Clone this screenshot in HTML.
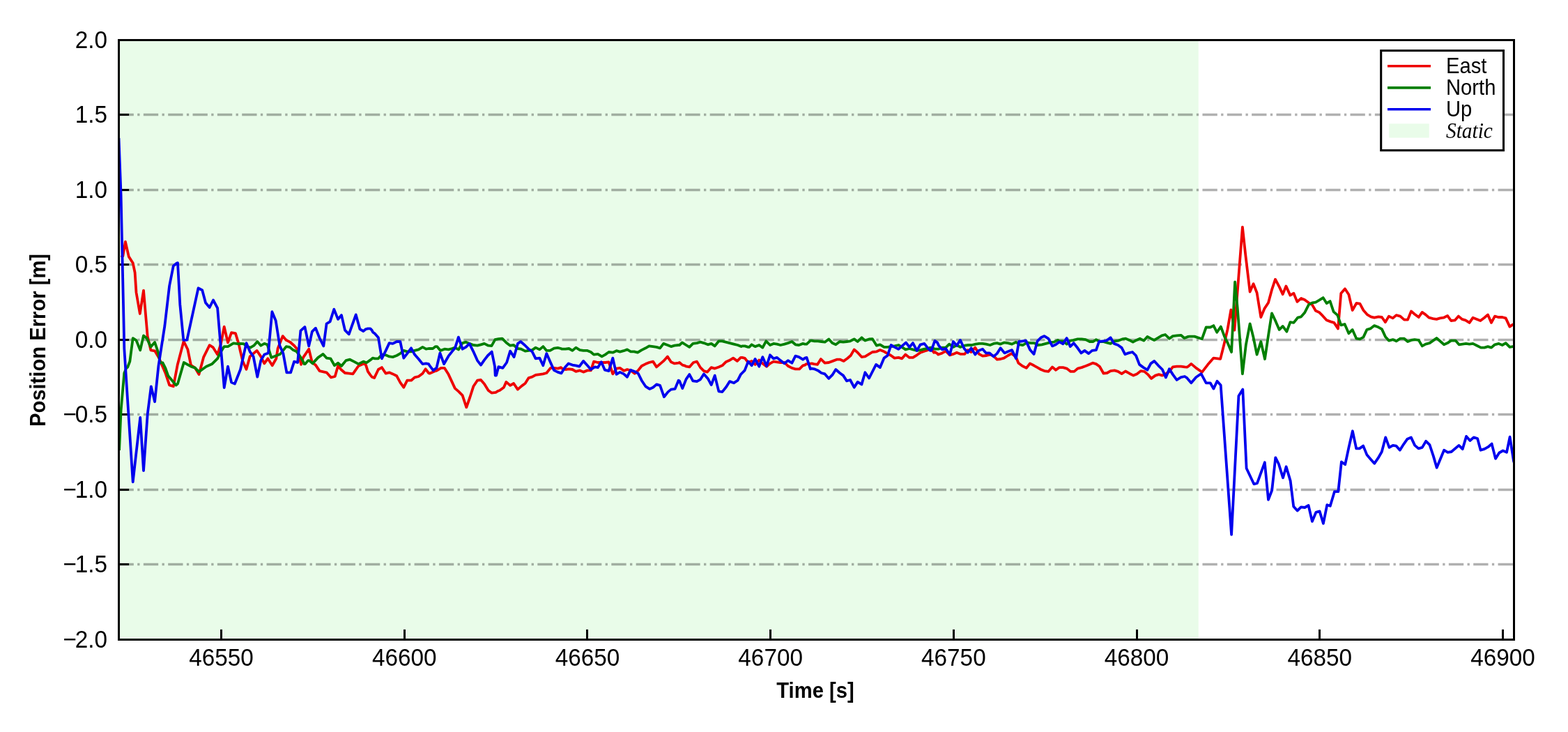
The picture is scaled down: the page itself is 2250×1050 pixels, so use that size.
<!DOCTYPE html>
<html><head><meta charset="utf-8"><title>Position Error</title>
<style>html,body{margin:0;padding:0;background:#fff;width:2250px;height:1050px;overflow:hidden}svg{display:block}</style>
</head><body>
<svg width="2250" height="1050" viewBox="0 0 2250 1050">
<rect width="2250" height="1050" fill="#ffffff"/>
<defs><clipPath id="ax"><rect x="170.5" y="57.3" width="2001.8000000000002" height="859.9000000000001"/></clipPath></defs>
<rect x="170.5" y="57.3" width="1549.2" height="859.9" fill="#e9fce9"/>
<line x1="170.5" y1="164.50" x2="2172.3" y2="164.50" stroke="#000" stroke-opacity="0.31" stroke-width="3.33" stroke-dasharray="21.34 5.34 3.33 5.33"/>
<line x1="170.5" y1="272.50" x2="2172.3" y2="272.50" stroke="#000" stroke-opacity="0.31" stroke-width="3.33" stroke-dasharray="21.34 5.34 3.33 5.33"/>
<line x1="170.5" y1="379.50" x2="2172.3" y2="379.50" stroke="#000" stroke-opacity="0.31" stroke-width="3.33" stroke-dasharray="21.34 5.34 3.33 5.33"/>
<line x1="170.5" y1="487.50" x2="2172.3" y2="487.50" stroke="#000" stroke-opacity="0.31" stroke-width="3.33" stroke-dasharray="21.34 5.34 3.33 5.33"/>
<line x1="170.5" y1="594.50" x2="2172.3" y2="594.50" stroke="#000" stroke-opacity="0.31" stroke-width="3.33" stroke-dasharray="21.34 5.34 3.33 5.33"/>
<line x1="170.5" y1="702.50" x2="2172.3" y2="702.50" stroke="#000" stroke-opacity="0.31" stroke-width="3.33" stroke-dasharray="21.34 5.34 3.33 5.33"/>
<line x1="170.5" y1="809.50" x2="2172.3" y2="809.50" stroke="#000" stroke-opacity="0.31" stroke-width="3.33" stroke-dasharray="21.34 5.34 3.33 5.33"/>
<line x1="317.50" y1="917.5" x2="317.50" y2="902.9" stroke="#000" stroke-width="3"/>
<line x1="580.50" y1="917.5" x2="580.50" y2="902.9" stroke="#000" stroke-width="3"/>
<line x1="842.50" y1="917.5" x2="842.50" y2="902.9" stroke="#000" stroke-width="3"/>
<line x1="1105.50" y1="917.5" x2="1105.50" y2="902.9" stroke="#000" stroke-width="3"/>
<line x1="1368.50" y1="917.5" x2="1368.50" y2="902.9" stroke="#000" stroke-width="3"/>
<line x1="1631.50" y1="917.5" x2="1631.50" y2="902.9" stroke="#000" stroke-width="3"/>
<line x1="1893.50" y1="917.5" x2="1893.50" y2="902.9" stroke="#000" stroke-width="3"/>
<line x1="2156.50" y1="917.5" x2="2156.50" y2="902.9" stroke="#000" stroke-width="3"/>
<line x1="170.5" y1="57.50" x2="185.1" y2="57.50" stroke="#000" stroke-width="3"/>
<line x1="170.5" y1="164.50" x2="185.1" y2="164.50" stroke="#000" stroke-width="3"/>
<line x1="170.5" y1="272.50" x2="185.1" y2="272.50" stroke="#000" stroke-width="3"/>
<line x1="170.5" y1="379.50" x2="185.1" y2="379.50" stroke="#000" stroke-width="3"/>
<line x1="170.5" y1="487.50" x2="185.1" y2="487.50" stroke="#000" stroke-width="3"/>
<line x1="170.5" y1="594.50" x2="185.1" y2="594.50" stroke="#000" stroke-width="3"/>
<line x1="170.5" y1="702.50" x2="185.1" y2="702.50" stroke="#000" stroke-width="3"/>
<line x1="170.5" y1="809.50" x2="185.1" y2="809.50" stroke="#000" stroke-width="3"/>
<line x1="170.5" y1="917.50" x2="185.1" y2="917.50" stroke="#000" stroke-width="3"/>
<g clip-path="url(#ax)" fill="none" stroke-width="3.8" stroke-linejoin="round" stroke-linecap="butt">
<path d="M173.8,369.0 L176.4,367.1 L179.9,346.7 L184.8,368.1 L190.7,377.2 L193.6,391.0 L195.5,419.5 L200.8,450.0 L206.0,416.7 L211.7,482.4 L216.4,502.4 L222.1,503.3 L227.9,512.9 L237.4,535.2 L243.1,552.4 L248.8,554.3 L254.8,522.9 L263.6,489.5 L269.3,501.0 L274.0,523.8 L279.8,527.6 L285.5,537.1 L292.1,512.4 L300.7,495.2 L305.5,498.1 L312.1,508.6 L316.9,493.3 L321.7,468.6 L327.0,491.4 L332.1,477.1 L337.9,478.1 L342.6,493.3 L345.0,504.3 L348.3,518.1 L353.5,529.8 L358.6,511.4 L368.6,502.9 L374.3,511.4 L379.3,521.4 L384.3,514.3 L390.7,524.3 L396.4,514.3 L398.6,500.0 L405.7,482.1 L410.7,487.9 L416.4,490.7 L422.1,495.7 L427.1,501.4 L432.1,522.9 L435.0,512.9 L437.9,508.6 L443.2,500.7 L447.9,520.0 L452.9,523.6 L458.6,532.1 L468.6,534.3 L475.0,541.4 L480.7,540.0 L485.0,525.0 L489.3,530.0 L495.0,535.0 L500.7,535.7 L506.4,536.4 L514.3,525.0 L522.1,521.4 L525.0,523.6 L527.9,532.9 L531.4,537.9 L533.6,540.7 L537.1,542.1 L542.9,530.0 L547.9,527.1 L553.6,535.7 L558.6,534.3 L563.6,536.4 L569.3,539.3 L574.3,548.6 L579.3,555.7 L584.3,545.7 L590.0,545.7 L595.0,541.4 L600.7,540.0 L606.4,535.7 L610.7,529.3 L615.0,535.0 L616.4,535.7 L621.4,533.6 L625.0,532.1 L627.1,531.4 L632.9,527.9 L637.9,527.9 L643.6,537.1 L648.6,547.9 L652.9,557.1 L657.9,561.4 L663.6,567.1 L669.3,584.3 L674.3,570.0 L679.3,554.3 L685.0,545.7 L690.0,545.0 L695.0,550.7 L700.7,560.0 L705.4,563.6 L711.4,562.9 L715.0,560.7 L717.1,560.0 L722.9,555.7 L726.4,547.9 L732.1,552.9 L737.1,550.0 L742.9,558.6 L748.6,553.6 L753.6,550.0 L758.6,542.1 L763.6,540.7 L768.6,537.9 L774.3,537.1 L779.3,536.4 L784.3,535.0 L790.0,527.9 L795.0,527.9 L800.7,528.6 L805.0,527.1 L806.4,528.6 L811.4,530.0 L816.4,529.3 L821.4,530.0 L826.4,532.9 L832.1,531.4 L837.1,533.6 L842.9,531.4 L847.9,531.4 L852.1,518.6 L857.9,520.0 L863.6,520.0 L868.6,520.0 L873.6,519.3 L879.3,536.4 L884.6,528.6 L889.6,527.9 L895.4,531.8 L900.0,530.0 L905.0,531.4 L910.7,535.7 L915.7,531.4 L920.7,525.0 L926.4,522.1 L931.4,520.0 L937.1,518.6 L942.1,526.4 L947.1,522.1 L952.1,517.9 L957.9,511.4 L962.9,519.3 L967.9,521.4 L973.6,520.7 L975.0,520.0 L979.3,523.6 L982.1,524.3 L985.0,525.7 L989.3,526.4 L995.0,520.0 L1000.0,518.6 L1005.0,527.1 L1010.0,532.1 L1015.0,533.6 L1020.7,527.1 L1025.7,528.6 L1031.4,526.4 L1036.4,524.3 L1041.4,519.3 L1046.4,517.1 L1052.1,513.6 L1057.9,517.9 L1062.9,512.9 L1065.0,512.9 L1068.9,513.9 L1073.6,520.0 L1078.6,517.9 L1083.6,522.9 L1089.3,516.4 L1094.3,521.4 L1100.0,525.7 L1105.0,521.4 L1110.0,518.6 L1115.0,519.3 L1120.0,520.0 L1125.7,520.0 L1130.7,525.0 L1136.4,527.9 L1141.4,529.3 L1147.1,529.3 L1152.1,524.3 L1155.0,523.6 L1157.1,522.1 L1159.3,522.1 L1165.0,521.4 L1167.9,522.1 L1172.9,522.9 L1177.9,515.0 L1183.6,520.7 L1189.3,520.0 L1195.0,517.9 L1200.7,515.7 L1205.7,515.7 L1210.7,517.9 L1215.7,514.3 L1220.7,510.0 L1225.7,501.4 L1230.7,505.7 L1236.4,512.1 L1241.4,511.4 L1247.1,507.9 L1251.8,505.0 L1257.9,504.3 L1262.9,502.1 L1268.6,504.3 L1273.6,507.1 L1278.6,510.0 L1283.6,513.6 L1289.3,512.9 L1294.3,514.3 L1299.3,508.6 L1305.0,512.9 L1310.0,512.9 L1315.7,509.3 L1320.7,505.7 L1326.4,503.6 L1331.4,502.1 L1335.0,500.7 L1336.4,500.7 L1340.0,505.7 L1341.4,505.0 L1345.0,507.1 L1346.4,508.6 L1352.1,506.4 L1357.1,503.6 L1362.9,509.3 L1367.9,507.9 L1372.9,505.7 L1378.6,507.9 L1384.3,507.9 L1388.6,502.1 L1393.6,505.0 L1399.3,498.6 L1405.0,507.9 L1410.0,510.7 L1415.7,510.0 L1420.7,508.6 L1425.7,510.7 L1430.7,515.7 L1435.7,515.0 L1440.7,513.6 L1446.4,510.0 L1451.4,507.1 L1457.9,512.1 L1461.4,520.7 L1467.1,525.0 L1472.9,527.9 L1477.9,521.4 L1483.6,524.3 L1488.6,527.1 L1493.6,530.0 L1498.6,532.1 L1504.3,532.9 L1510.0,526.4 L1515.0,530.7 L1520.0,527.1 L1525.4,527.1 L1530.7,528.6 L1536.4,532.9 L1541.4,532.9 L1546.4,528.6 L1552.1,527.1 L1557.9,525.0 L1562.9,522.9 L1567.9,520.7 L1572.9,522.1 L1577.9,525.7 L1583.6,535.7 L1588.6,535.0 L1593.6,532.1 L1599.3,531.4 L1604.3,532.9 L1609.6,536.1 L1615.0,532.5 L1620.7,535.7 L1626.4,538.6 L1631.4,536.4 L1637.1,532.1 L1642.1,532.9 L1647.1,537.1 L1652.1,542.9 L1657.9,538.6 L1662.9,537.1 L1667.9,538.6 L1672.9,536.4 L1677.9,532.9 L1682.9,526.4 L1688.6,525.7 L1694.6,525.6 L1700.0,526.4 L1703.3,526.7 L1705.0,525.7 L1709.3,521.9 L1716.4,527.9 L1724.8,533.8 L1733.1,523.1 L1741.4,513.6 L1751.2,514.9 L1756.4,494.3 L1761.4,472.9 L1766.4,444.3 L1771.4,473.6 L1782.9,325.7 L1787.1,364.3 L1793.6,418.6 L1798.6,407.1 L1803.6,420.0 L1809.3,455.0 L1814.3,442.9 L1820.0,434.3 L1825.0,415.7 L1830.0,400.7 L1835.7,411.4 L1840.7,422.1 L1845.4,410.4 L1851.4,423.6 L1856.4,420.7 L1861.4,432.9 L1867.1,427.9 L1872.1,430.0 L1877.9,434.3 L1882.9,437.1 L1887.9,445.7 L1892.9,447.9 L1897.9,452.9 L1903.6,459.3 L1909.3,461.4 L1914.3,462.9 L1920.0,471.4 L1924.3,420.7 L1930.0,414.3 L1935.4,422.5 L1940.7,445.0 L1946.4,435.0 L1951.4,435.7 L1956.4,445.0 L1962.1,451.4 L1967.1,454.3 L1972.1,455.7 L1977.9,454.3 L1982.9,455.0 L1987.9,462.1 L1992.9,453.6 L1998.6,456.4 L2003.6,452.1 L2009.3,453.6 L2015.0,458.6 L2020.0,458.6 L2025.0,446.4 L2030.0,450.7 L2035.7,455.0 L2040.7,447.9 L2045.7,451.4 L2050.7,455.7 L2056.4,457.1 L2061.4,457.9 L2066.4,456.4 L2071.4,455.7 L2077.1,452.9 L2082.1,460.0 L2087.9,459.3 L2092.9,453.6 L2097.9,457.9 L2102.9,459.3 L2108.6,462.9 L2113.6,455.7 L2119.3,457.9 L2124.3,460.0 L2130.0,455.7 L2135.0,451.4 L2140.0,462.9 L2145.0,453.6 L2150.0,455.0 L2155.7,455.0 L2160.7,456.4 L2166.4,468.6 L2170.7,465.7 L2173.6,464.3" stroke="#ee0000"/>
<path d="M171.1,646.0 L173.6,588.6 L178.3,535.2 L181.2,528.1 L183.1,526.7 L186.3,518.5 L190.7,485.2 L195.5,488.1 L201.2,502.4 L206.0,481.4 L210.7,485.2 L216.4,497.6 L222.1,491.0 L226.9,505.2 L229.8,520.0 L233.6,520.5 L237.4,528.1 L241.2,539.0 L252.6,552.4 L255.0,550.5 L263.8,520.0 L274.0,525.7 L279.8,527.6 L285.5,533.3 L296.0,525.7 L304.5,521.9 L312.1,514.3 L316.9,504.8 L321.7,497.1 L327.0,497.1 L335.0,492.4 L342.6,493.3 L345.0,492.9 L349.8,493.1 L354.0,497.1 L359.3,498.6 L364.3,495.7 L369.3,490.0 L374.3,495.7 L379.3,492.9 L383.6,494.3 L389.3,512.9 L395.0,510.7 L402.1,507.9 L410.7,497.1 L415.7,497.9 L420.7,502.1 L425.7,504.3 L430.7,511.4 L435.0,518.6 L436.4,522.1 L437.9,522.1 L442.1,517.1 L443.6,517.1 L448.6,521.4 L456.4,512.9 L463.6,507.9 L468.6,513.6 L474.3,514.3 L480.0,524.3 L485.0,520.7 L490.0,525.0 L496.4,517.1 L502.1,515.7 L507.9,518.6 L514.3,522.1 L521.4,518.6 L525.0,520.0 L526.4,520.0 L531.4,516.4 L535.0,513.6 L537.9,514.3 L542.9,514.3 L547.9,508.6 L553.6,509.3 L558.6,511.4 L563.6,512.1 L569.3,510.0 L574.3,507.1 L579.3,502.9 L584.3,504.3 L590.0,504.3 L595.0,502.9 L600.7,501.4 L606.4,497.9 L611.4,500.7 L615.0,500.0 L616.4,500.0 L621.1,500.0 L625.0,497.1 L627.1,497.1 L632.1,502.9 L637.9,500.7 L643.6,501.4 L648.6,500.0 L652.9,498.6 L657.9,501.4 L663.6,492.1 L668.6,490.7 L673.6,492.9 L679.3,495.0 L685.0,495.7 L690.0,494.3 L695.0,492.9 L700.7,495.7 L705.4,496.1 L710.4,487.1 L715.4,486.1 L720.7,485.7 L726.4,491.4 L732.1,495.7 L737.1,495.0 L742.9,500.0 L747.9,500.7 L753.6,503.6 L758.6,502.9 L763.6,502.1 L768.6,498.6 L774.3,501.4 L779.3,497.1 L784.3,502.9 L789.3,502.9 L795.0,499.6 L800.4,498.9 L805.0,500.0 L806.4,500.7 L811.4,500.7 L816.4,500.0 L821.4,502.9 L826.4,498.6 L832.1,502.1 L837.1,502.9 L842.9,502.9 L847.9,505.0 L852.1,508.6 L857.9,507.9 L863.6,511.4 L868.6,508.6 L873.6,505.0 L879.3,505.7 L884.6,503.2 L889.6,504.6 L895.0,503.2 L900.0,501.4 L905.0,504.3 L910.0,504.3 L915.0,505.7 L920.7,502.1 L926.4,499.3 L931.4,496.4 L937.1,497.1 L942.1,497.9 L947.1,499.3 L952.1,492.9 L957.9,495.0 L962.9,497.1 L967.9,495.7 L973.6,495.0 L975.0,495.0 L978.9,491.4 L984.6,495.0 L989.3,497.9 L994.3,492.9 L1000.0,492.1 L1005.0,490.7 L1010.0,492.1 L1015.7,494.3 L1020.7,492.9 L1025.7,496.4 L1031.4,489.3 L1036.4,489.3 L1041.4,490.7 L1047.1,492.1 L1052.9,493.6 L1058.6,495.0 L1063.6,497.1 L1065.0,496.4 L1068.9,496.4 L1073.6,497.9 L1075.0,497.9 L1078.6,494.3 L1083.6,497.1 L1089.3,495.0 L1094.3,498.6 L1099.3,489.3 L1105.0,495.0 L1110.0,492.9 L1115.0,493.6 L1120.0,495.0 L1125.7,493.6 L1130.7,492.1 L1136.4,490.0 L1141.4,494.3 L1146.4,495.0 L1152.1,492.9 L1155.0,493.6 L1157.5,493.6 L1162.9,488.6 L1165.0,488.6 L1168.6,489.3 L1173.6,489.3 L1178.6,490.0 L1183.6,490.7 L1189.3,486.4 L1194.3,492.1 L1199.3,494.3 L1205.0,490.0 L1210.0,490.7 L1215.0,490.0 L1220.0,489.3 L1225.7,486.4 L1230.7,490.0 L1236.4,484.3 L1241.4,488.6 L1247.1,486.4 L1251.8,486.1 L1257.9,495.7 L1262.9,494.3 L1268.6,497.9 L1273.6,497.9 L1278.6,497.1 L1283.6,496.4 L1289.3,495.0 L1294.3,497.9 L1299.3,501.4 L1305.0,500.0 L1310.0,501.4 L1315.7,502.9 L1320.7,502.1 L1326.4,500.7 L1331.4,500.0 L1335.0,498.6 L1336.4,498.6 L1340.0,500.0 L1341.4,500.7 L1345.0,500.7 L1346.4,500.7 L1352.1,498.6 L1357.1,498.6 L1362.1,493.6 L1367.9,497.9 L1372.9,495.0 L1377.9,497.9 L1384.3,495.7 L1389.3,495.0 L1394.3,495.0 L1400.0,493.6 L1405.0,492.9 L1410.0,492.9 L1415.0,493.6 L1420.7,495.0 L1425.7,492.9 L1430.7,492.1 L1435.7,493.6 L1440.7,491.4 L1446.4,492.1 L1452.1,493.6 L1457.9,490.7 L1462.9,494.3 L1467.9,495.0 L1473.6,491.4 L1479.3,492.1 L1484.3,492.1 L1489.3,495.0 L1495.0,494.3 L1500.7,492.9 L1506.4,491.4 L1512.1,490.7 L1517.9,487.9 L1520.0,489.3 L1525.4,489.3 L1530.7,493.6 L1535.7,488.6 L1540.7,487.9 L1546.4,486.4 L1552.1,486.4 L1557.9,487.1 L1563.6,490.0 L1568.6,490.0 L1572.9,487.1 L1577.9,490.0 L1582.9,490.0 L1587.9,491.4 L1593.6,492.9 L1599.3,489.3 L1605.0,488.6 L1610.4,486.4 L1615.4,485.7 L1620.7,487.9 L1625.7,490.7 L1630.7,487.9 L1635.7,485.7 L1641.4,488.6 L1646.4,482.9 L1651.4,485.7 L1656.4,487.9 L1662.1,484.3 L1667.1,481.4 L1672.1,480.0 L1677.9,485.7 L1682.9,482.1 L1688.6,481.4 L1694.6,480.8 L1699.5,485.0 L1705.0,482.9 L1706.9,482.6 L1714.0,482.6 L1724.8,486.2 L1730.7,469.5 L1736.7,469.5 L1741.4,467.1 L1746.2,476.7 L1751.8,468.5 L1757.1,482.9 L1762.1,492.9 L1767.1,505.0 L1772.1,404.3 L1775.7,441.4 L1782.9,536.4 L1787.9,494.3 L1793.6,464.3 L1798.6,484.3 L1803.6,508.6 L1809.3,490.0 L1815.0,515.0 L1820.0,481.4 L1825.0,449.3 L1830.7,461.4 L1835.7,472.9 L1840.7,467.9 L1846.4,475.7 L1851.4,462.1 L1856.4,462.9 L1862.1,455.7 L1867.1,454.3 L1872.1,448.6 L1877.9,437.1 L1882.9,434.3 L1887.9,433.6 L1892.9,430.7 L1898.6,427.1 L1903.6,435.0 L1908.6,432.1 L1913.6,447.1 L1919.3,452.1 L1924.3,466.4 L1929.6,465.0 L1935.4,478.2 L1940.7,472.9 L1946.4,485.7 L1951.4,486.4 L1956.4,483.6 L1961.4,472.9 L1966.4,471.4 L1972.1,467.1 L1977.9,469.3 L1982.9,472.1 L1987.9,482.9 L1992.9,488.6 L1998.6,487.1 L2003.6,489.3 L2009.3,485.7 L2015.0,485.7 L2020.0,490.0 L2025.0,487.9 L2030.0,487.1 L2035.7,487.9 L2040.7,496.4 L2045.7,493.6 L2051.4,492.1 L2056.4,488.6 L2061.4,485.0 L2066.4,489.3 L2072.1,494.3 L2077.1,492.1 L2082.1,488.6 L2088.6,488.6 L2093.6,494.3 L2098.6,493.6 L2103.6,492.9 L2108.6,493.6 L2113.6,492.9 L2119.3,495.7 L2125.0,498.6 L2130.0,498.6 L2135.0,497.1 L2140.0,498.6 L2145.0,494.3 L2150.7,492.9 L2155.7,495.0 L2160.7,492.1 L2166.4,497.9 L2170.7,497.1 L2173.6,496.9" stroke="#007f00"/>
<path d="M170.5,198.0 L173.6,280.0 L177.5,460.0 L178.3,500.0 L190.7,691.4 L201.2,599.0 L206.0,675.2 L211.7,594.3 L216.8,554.3 L222.1,576.2 L227.4,525.0 L236.4,467.1 L243.1,410.0 L248.8,381.4 L253.6,377.6 L255.0,377.1 L258.3,436.7 L263.3,487.9 L268.3,487.6 L284.5,413.3 L290.2,416.2 L295.0,434.3 L300.7,441.0 L306.0,430.5 L312.1,441.9 L321.7,556.2 L327.0,525.7 L332.1,548.6 L336.9,550.5 L345.0,530.0 L353.5,492.1 L358.6,504.3 L363.6,511.4 L369.3,540.7 L374.3,517.1 L379.3,508.6 L385.0,506.4 L390.4,447.1 L395.7,460.0 L401.4,495.7 L406.4,507.1 L411.4,534.3 L417.1,534.3 L422.1,518.6 L427.1,520.0 L431.4,474.3 L437.4,468.9 L443.2,496.4 L447.9,475.7 L452.9,470.7 L458.6,485.0 L464.3,496.4 L468.6,464.3 L473.6,461.4 L479.3,443.6 L485.0,457.9 L490.0,452.1 L495.0,473.6 L500.7,479.3 L510.7,451.4 L516.4,472.1 L521.4,475.0 L525.0,472.1 L527.9,471.4 L531.4,471.4 L533.6,473.6 L535.0,476.4 L537.9,478.6 L542.9,484.3 L547.9,514.3 L553.6,502.9 L558.6,492.1 L563.6,492.9 L569.3,490.0 L574.3,490.0 L579.3,513.6 L584.3,507.1 L590.0,499.3 L595.0,508.6 L600.7,515.0 L606.4,522.1 L611.4,521.4 L615.0,522.1 L616.4,524.3 L621.8,531.4 L625.0,528.6 L626.4,527.9 L631.4,506.4 L637.1,522.1 L643.6,510.7 L648.6,504.3 L652.9,499.3 L657.9,483.6 L663.6,500.7 L668.6,497.9 L673.6,492.9 L679.3,504.3 L685.0,517.1 L690.0,523.6 L695.0,516.4 L700.0,510.0 L705.7,504.6 L710.0,525.7 L710.7,538.6 L712.1,538.6 L715.4,526.1 L721.4,527.9 L727.1,520.0 L732.1,503.6 L737.6,512.1 L742.9,492.9 L747.1,490.0 L752.9,495.0 L758.6,500.7 L763.6,504.3 L768.6,514.3 L774.3,513.6 L779.3,524.3 L784.3,507.1 L789.3,518.6 L795.0,531.1 L800.0,533.6 L805.4,535.4 L810.7,527.1 L815.7,521.4 L821.4,523.6 L826.4,524.3 L831.4,525.7 L837.1,517.9 L842.9,524.3 L847.9,530.0 L853.6,526.4 L857.9,527.1 L862.9,519.3 L867.9,530.7 L873.6,532.1 L879.3,513.6 L884.6,536.8 L889.6,533.9 L895.0,536.4 L900.0,540.7 L905.0,530.7 L910.7,532.9 L915.7,535.7 L920.7,545.7 L926.4,554.3 L932.1,557.9 L937.1,555.7 L942.1,551.4 L947.1,552.9 L952.9,569.3 L958.6,562.1 L962.9,558.6 L968.6,557.9 L973.6,545.7 L975.0,546.4 L979.3,557.1 L984.6,543.9 L989.3,537.1 L994.3,546.4 L1000.0,547.1 L1005.0,544.3 L1010.0,536.4 L1015.7,542.9 L1020.7,552.1 L1025.7,538.6 L1031.4,561.4 L1036.4,562.1 L1042.1,555.0 L1047.1,547.1 L1052.9,549.3 L1058.6,545.7 L1062.9,537.1 L1065.0,535.0 L1068.6,531.4 L1073.6,518.6 L1078.6,524.3 L1083.6,515.0 L1089.3,525.7 L1094.3,512.1 L1100.0,525.0 L1105.0,509.3 L1110.0,514.3 L1115.0,512.9 L1120.0,517.1 L1125.7,521.4 L1130.7,517.1 L1136.4,520.7 L1141.4,510.7 L1146.4,512.1 L1152.1,515.7 L1155.0,513.6 L1157.5,512.9 L1162.9,529.3 L1165.0,528.6 L1168.6,529.3 L1173.6,531.4 L1178.6,535.0 L1183.6,536.4 L1189.3,542.9 L1194.3,537.9 L1199.3,530.0 L1205.0,535.0 L1210.0,538.6 L1215.0,546.4 L1220.0,545.0 L1225.7,555.7 L1230.7,547.9 L1236.4,551.4 L1241.4,534.3 L1247.1,542.5 L1257.1,522.9 L1262.9,527.1 L1268.6,513.6 L1273.6,510.0 L1278.6,495.0 L1283.6,497.9 L1289.3,500.7 L1294.3,496.4 L1300.0,491.4 L1305.0,497.9 L1310.0,492.1 L1315.7,502.9 L1320.7,494.3 L1326.4,492.9 L1331.4,499.3 L1335.0,502.9 L1336.4,502.9 L1341.4,488.9 L1345.0,491.4 L1347.1,495.7 L1352.1,501.4 L1357.1,500.0 L1362.9,508.6 L1367.9,490.0 L1372.9,495.7 L1377.9,487.9 L1383.6,500.0 L1388.6,505.7 L1393.6,499.3 L1399.3,508.6 L1404.3,502.9 L1410.0,500.7 L1415.0,506.4 L1420.0,506.4 L1425.7,511.4 L1430.7,507.1 L1435.7,499.3 L1441.4,506.4 L1446.4,504.3 L1452.1,502.1 L1457.9,514.3 L1462.1,490.0 L1467.1,489.3 L1472.1,488.6 L1477.9,501.4 L1483.6,507.9 L1488.6,489.3 L1493.6,484.3 L1498.6,482.1 L1504.3,485.7 L1510.0,496.4 L1515.0,494.3 L1520.0,490.4 L1525.4,493.2 L1530.7,485.0 L1535.7,497.1 L1540.7,492.1 L1546.4,499.3 L1551.4,506.4 L1556.4,502.9 L1562.1,507.1 L1567.1,502.9 L1572.9,502.1 L1577.1,490.0 L1582.9,489.3 L1587.9,488.6 L1593.6,484.3 L1598.6,492.9 L1604.3,495.0 L1609.6,498.9 L1614.3,508.2 L1619.3,506.4 L1625.0,505.0 L1630.0,510.0 L1635.0,522.9 L1640.7,527.1 L1646.4,530.7 L1651.4,521.4 L1656.4,517.9 L1662.1,524.3 L1667.9,530.0 L1672.9,541.4 L1677.9,529.3 L1682.9,537.1 L1688.6,545.0 L1694.6,541.2 L1700.0,540.0 L1703.3,542.1 L1705.0,544.3 L1709.3,549.3 L1716.4,541.0 L1723.6,536.2 L1730.7,549.3 L1736.7,549.3 L1741.4,557.6 L1746.5,546.8 L1751.7,552.6 L1767.1,766.9 L1777.4,568.1 L1783.3,558.6 L1788.6,671.7 L1799.3,694.3 L1804.0,693.1 L1814.8,663.3 L1820.0,716.9 L1825.2,703.3 L1830.3,656.3 L1834.9,665.5 L1841.0,685.4 L1845.6,669.4 L1851.7,689.9 L1856.2,726.5 L1861.6,732.6 L1866.9,727.3 L1872.3,728.0 L1877.6,725.0 L1882.9,747.9 L1888.3,734.9 L1893.6,733.4 L1898.9,750.9 L1904.3,724.2 L1908.8,725.8 L1914.9,705.2 L1920.3,705.2 L1924.9,662.5 L1930.2,666.3 L1935.6,641.2 L1940.9,618.3 L1946.2,643.4 L1950.8,643.4 L1956.2,639.6 L1961.5,652.6 L1966.8,658.7 L1972.2,664.8 L1977.5,657.2 L1982.8,648.0 L1988.2,627.4 L1993.5,641.9 L1998.8,638.9 L2003.4,639.6 L2008.8,645.7 L2014.1,637.3 L2019.5,629.7 L2024.8,627.4 L2030.2,638.9 L2035.5,643.4 L2040.8,641.9 L2046.2,632.8 L2051.5,638.1 L2056.8,654.1 L2061.7,670.9 L2066.7,658.7 L2072.1,645.7 L2077.4,648.8 L2082.7,648.0 L2093.4,638.9 L2098.7,644.2 L2104.1,625.9 L2109.4,632.0 L2114.7,627.4 L2120.1,629.0 L2124.6,645.7 L2130.0,644.2 L2135.3,641.2 L2140.6,636.6 L2146.0,657.9 L2151.3,649.5 L2156.6,646.5 L2162.0,648.8 L2166.6,626.7 L2171.9,661.0 L2176.5,676.2" stroke="#0000ee"/>
</g>
<rect x="170.5" y="57.5" width="2002.0" height="860.0" fill="none" stroke="#000" stroke-width="3" stroke-linejoin="miter"/>
<g font-family="Liberation Sans, Arial, sans-serif" font-size="33.3" fill="#000">
<text transform="translate(317.50,954.8) scale(1,1.045)" text-anchor="middle">46550</text>
<text transform="translate(580.21,954.8) scale(1,1.045)" text-anchor="middle">46600</text>
<text transform="translate(842.93,954.8) scale(1,1.045)" text-anchor="middle">46650</text>
<text transform="translate(1105.64,954.8) scale(1,1.045)" text-anchor="middle">46700</text>
<text transform="translate(1368.36,954.8) scale(1,1.045)" text-anchor="middle">46750</text>
<text transform="translate(1631.08,954.8) scale(1,1.045)" text-anchor="middle">46800</text>
<text transform="translate(1893.79,954.8) scale(1,1.045)" text-anchor="middle">46850</text>
<text transform="translate(2156.51,954.8) scale(1,1.045)" text-anchor="middle">46900</text>
<text transform="translate(154,68.99) scale(1,1.045)" text-anchor="end">2.0</text>
<text transform="translate(154,176.48) scale(1,1.045)" text-anchor="end">1.5</text>
<text transform="translate(154,283.97) scale(1,1.045)" text-anchor="end">1.0</text>
<text transform="translate(154,391.46) scale(1,1.045)" text-anchor="end">0.5</text>
<text transform="translate(154,498.95) scale(1,1.045)" text-anchor="end">0.0</text>
<text transform="translate(154,606.44) scale(1,1.045)" text-anchor="end">−<tspan dx="-1.9">0.5</tspan></text>
<text transform="translate(154,713.93) scale(1,1.045)" text-anchor="end">−<tspan dx="-1.9">1.0</tspan></text>
<text transform="translate(154,821.42) scale(1,1.045)" text-anchor="end">−<tspan dx="-1.9">1.5</tspan></text>
<text transform="translate(154,928.91) scale(1,1.045)" text-anchor="end">−<tspan dx="-1.9">2.0</tspan></text>
</g>
<text transform="translate(1170,1001) scale(1,1.045)" text-anchor="middle" font-family="Liberation Sans, Arial, sans-serif" font-weight="bold" font-size="29.2">Time [s]</text>
<text transform="translate(65,488) rotate(-90) scale(1,1.045)" text-anchor="middle" font-family="Liberation Sans, Arial, sans-serif" font-weight="bold" font-size="29.2">Position Error [m]</text>
<rect x="1981.7" y="72.6" width="175.8" height="143.1" fill="#ffffff" stroke="#000" stroke-width="3.05"/>
<line x1="1991" y1="94.8" x2="2053" y2="94.8" stroke="#ee0000" stroke-width="3.6"/>
<line x1="1991" y1="125.9" x2="2053" y2="125.9" stroke="#007f00" stroke-width="3.6"/>
<line x1="1991" y1="156.8" x2="2053" y2="156.8" stroke="#0000ee" stroke-width="3.6"/>
<rect x="1993.2" y="177.4" width="57.5" height="20.2" fill="#e9fce9"/>
<g font-family="Liberation Sans, Arial, sans-serif" font-size="29.2" fill="#000">
<text transform="translate(2075,105) scale(1,1.045)">East</text>
<text transform="translate(2075,135.8) scale(1,1.045)">North</text>
<text transform="translate(2075,166.7) scale(1,1.045)">Up</text>
</g>
<text transform="translate(2075,197.7) scale(1,1.045)" font-family="Liberation Serif, Times New Roman, serif" font-style="italic" font-size="29.4" fill="#000">Static</text>
</svg>
</body></html>
